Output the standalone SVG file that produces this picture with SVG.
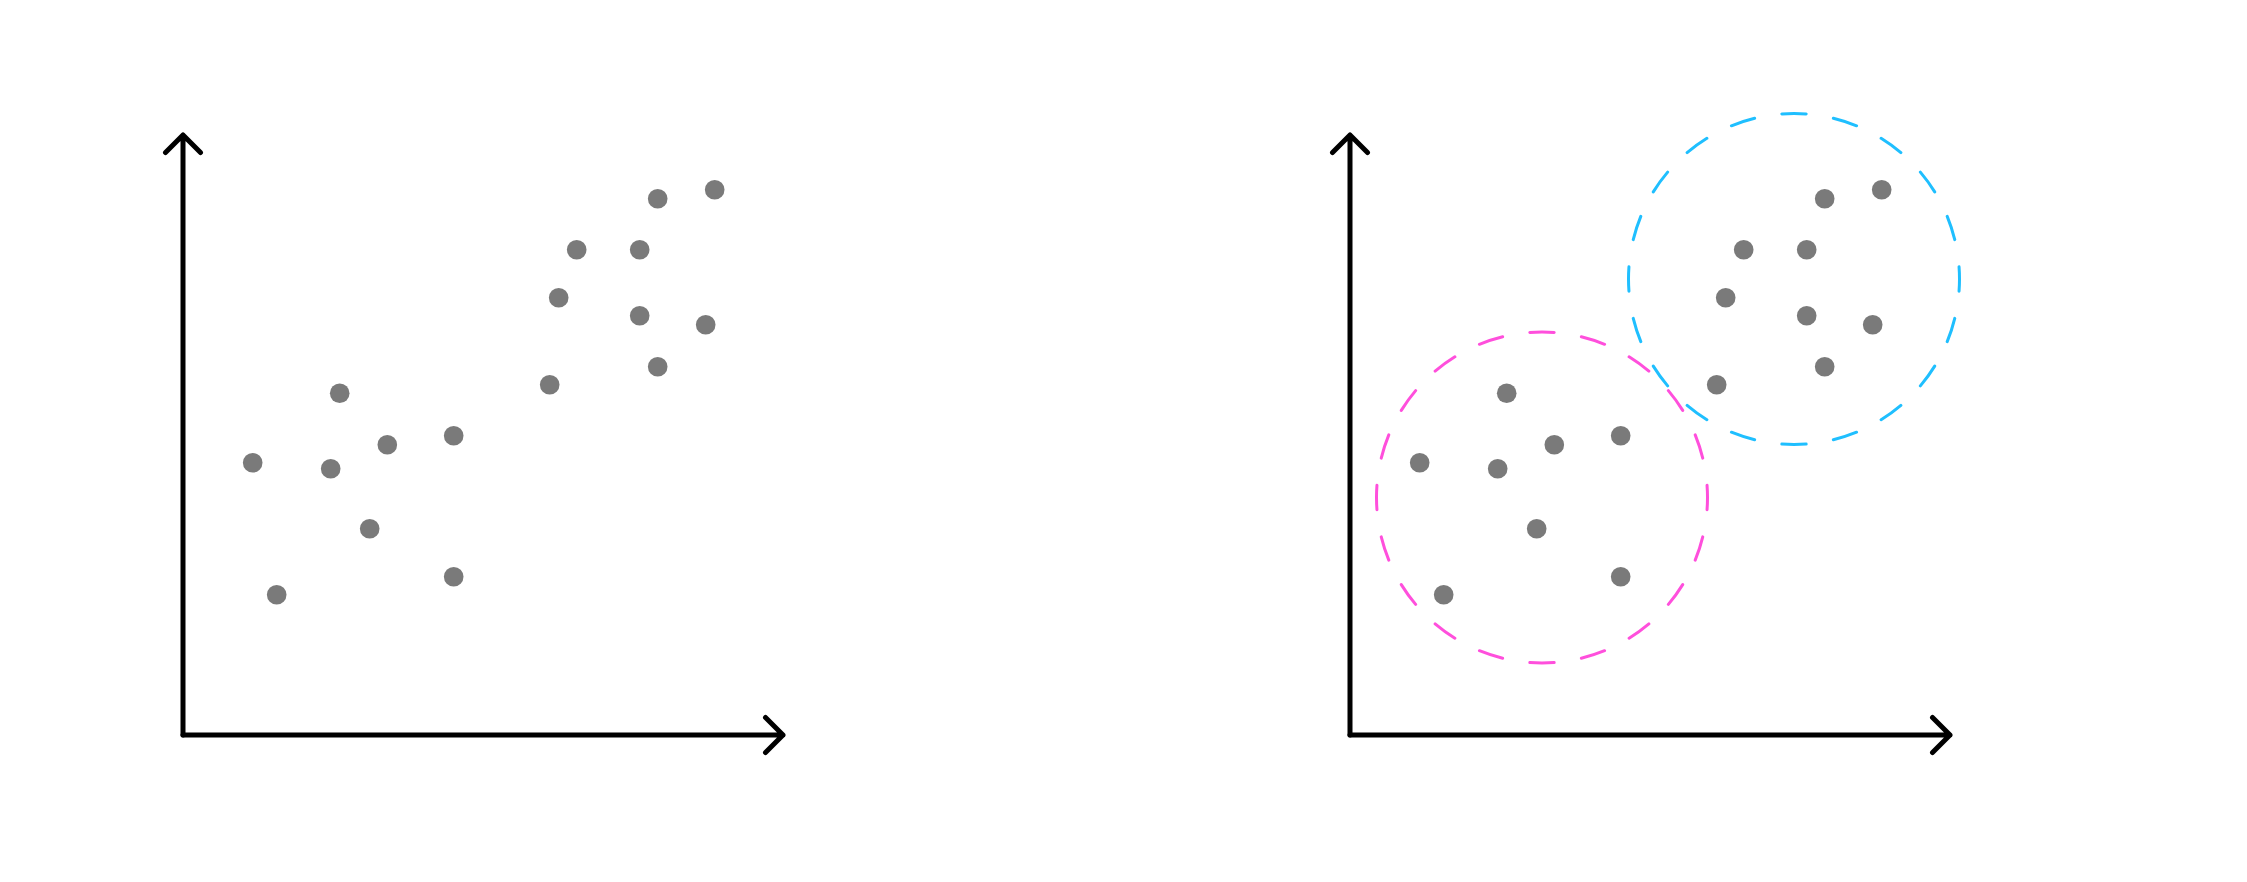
<svg xmlns="http://www.w3.org/2000/svg" width="2247" height="882" viewBox="0 0 2247 882">
  <defs>
    <style>
      .axis { fill: none; stroke: #000000; stroke-width: 5; stroke-linecap: round; stroke-linejoin: round; }
      .dot { fill: #7a7a7a; }
      .cluster { fill: none; stroke-width: 3; stroke-linecap: round; stroke-dasharray: 23.5 26.5; stroke-dashoffset: 11.75; }
      .pink { stroke: #ff4fdc; }
      .cyan { stroke: #1fbfff; }
    </style>
    <g id="axes">
      <path class="axis" d="M183 735 L183 135 M165.5 152.5 L183 135 L200.5 152.5"/>
      <path class="axis" d="M183 735 L783 735 M765.5 717.5 L783 735 L765.5 752.5"/>
    </g>
    <g id="points">
      <circle class="dot" cx="657.7" cy="198.7" r="9.8"/>
      <circle class="dot" cx="714.7" cy="189.7" r="9.8"/>
      <circle class="dot" cx="576.7" cy="249.7" r="9.8"/>
      <circle class="dot" cx="639.7" cy="249.7" r="9.8"/>
      <circle class="dot" cx="558.7" cy="297.7" r="9.8"/>
      <circle class="dot" cx="639.7" cy="315.7" r="9.8"/>
      <circle class="dot" cx="705.7" cy="324.7" r="9.8"/>
      <circle class="dot" cx="657.7" cy="366.7" r="9.8"/>
      <circle class="dot" cx="549.7" cy="384.7" r="9.8"/>
      <circle class="dot" cx="339.7" cy="393.3" r="9.8"/>
      <circle class="dot" cx="252.7" cy="462.7" r="9.8"/>
      <circle class="dot" cx="330.7" cy="468.7" r="9.8"/>
      <circle class="dot" cx="387.3" cy="444.7" r="9.8"/>
      <circle class="dot" cx="453.7" cy="435.7" r="9.8"/>
      <circle class="dot" cx="369.7" cy="528.7" r="9.8"/>
      <circle class="dot" cx="453.7" cy="576.7" r="9.8"/>
      <circle class="dot" cx="276.7" cy="594.7" r="9.8"/>
    </g>
  </defs>
  <rect x="0" y="0" width="2247" height="882" fill="#ffffff"/>
  <g id="plot-left">
    <use href="#axes"/>
    <use href="#points"/>
  </g>
  <g id="plot-right" transform="translate(1167 0)">
    <use href="#axes"/>
    <use href="#points"/>
  </g>
  <g id="clusters">
    <circle id="cluster-pink" class="cluster pink" cx="1542" cy="497.5" r="165.5" pathLength="1000"/>
    <circle id="cluster-cyan" class="cluster cyan" cx="1794" cy="279" r="165.5" pathLength="1000"/>
  </g>
</svg>
